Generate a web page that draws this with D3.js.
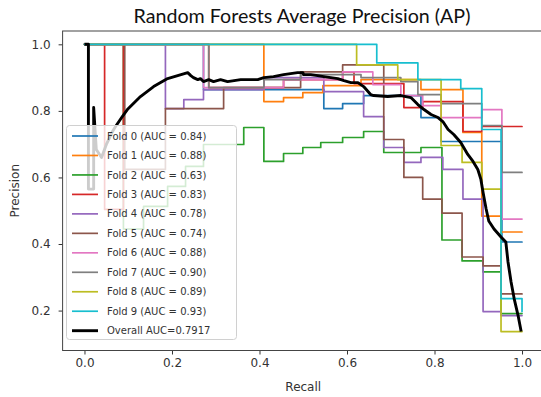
<!DOCTYPE html>
<html><head><meta charset="utf-8">
<script src="https://cdn.jsdelivr.net/npm/d3@7"></script>
<style>body{margin:0;background:#fff;} svg{display:block;}</style>
</head><body>
<svg id="chart" width="541" height="397"></svg>
<script>
// ---------------- data ----------------
const chartTitle = "Random Forests Average Precision (AP)";
const xLabel = "Recall";
const yLabel = "Precision";
const xTicks = [0, 0.2, 0.4, 0.6, 0.8, 1.0];
const yTicks = [0.2, 0.4, 0.6, 0.8, 1.0];
const foldLabels = ["Fold 0 (AUC = 0.84)","Fold 1 (AUC = 0.88)","Fold 2 (AUC = 0.63)","Fold 3 (AUC = 0.83)","Fold 4 (AUC = 0.78)","Fold 5 (AUC = 0.74)","Fold 6 (AUC = 0.88)","Fold 7 (AUC = 0.90)","Fold 8 (AUC = 0.89)","Fold 9 (AUC = 0.93)"];
const overallLabel = "Overall AUC=0.7917";
const foldColors = ["#1f77b4","#ff7f0e","#2ca02c","#d62728","#9467bd","#8c564b","#e377c2","#7f7f7f","#bcbd22","#17becf"];

const fold0Recall = [0,0.272,0.547,0.59,0.638,0.769,0.815,0.954,1.0];
const fold0Precision = [1.0,0.864,0.807,0.822,0.846,0.78,0.708,0.406,0.406];
const fold1Recall = [0,0.41,0.455,0.499,0.545,0.632,0.769,0.865,0.908,0.952,1.0];
const fold1Precision = [1.0,0.828,0.84,0.855,0.876,0.894,0.864,0.735,0.484,0.436,0.436];
const fold2Recall = [0,0.089,0.135,0.19,0.231,0.272,0.364,0.41,0.455,0.499,0.54,0.59,0.638,0.684,0.769,0.817,0.863,0.911,0.952,1.0];
const fold2Precision = [1.0,0.445,0.513,0.573,0.633,0.699,0.75,0.648,0.672,0.69,0.705,0.72,0.738,0.675,0.69,0.412,0.349,0.316,0.191,0.191];
const fold3Recall = [0,0.046,0.089,0.284,0.455,0.59,0.616,0.73,0.773,0.865,0.908,1.0];
const fold3Precision = [1.0,0.504,1.0,0.87,0.894,0.917,0.882,0.81,0.828,0.738,0.753,0.753];
const fold4Recall = [0,0.185,0.227,0.272,0.41,0.547,0.638,0.684,0.73,0.769,0.819,0.865,0.911,0.952,1.0];
const fold4Precision = [1.0,0.807,0.834,0.864,0.9,0.858,0.783,0.69,0.645,0.66,0.624,0.535,0.197,0.185,0.185];
const fold5Recall = [0,0.092,0.185,0.318,0.494,0.59,0.684,0.73,0.773,0.817,0.863,0.911,0.952,1.0];
const fold5Precision = [1.0,0.624,0.807,0.87,0.917,0.938,0.714,0.6,0.535,0.493,0.361,0.334,0.25,0.25];
const fold6Recall = [0,0.272,0.455,0.59,0.659,0.723,0.773,0.815,0.908,0.954,1.0];
const fold6Precision = [1.0,0.87,0.894,0.917,0.879,0.846,0.816,0.78,0.804,0.475,0.475];
const fold7Recall = [0,0.284,0.41,0.494,0.632,0.723,0.762,0.815,0.908,0.954,1.0];
const fold7Precision = [1.0,0.87,0.894,0.909,0.9,0.888,0.849,0.822,0.756,0.615,0.615];
const fold8Recall = [0,0.622,0.716,0.815,0.863,0.908,0.952,1.0];
const fold8Precision = [1.0,0.938,0.894,0.696,0.645,0.565,0.137,0.137];
const fold9Recall = [0,0.668,0.762,0.86,0.908,0.952,1.0];
const fold9Precision = [1.0,0.944,0.894,0.867,0.744,0.236,0.197];

const overallRecall = [0,0.009,0.009,0.021,0.021,0.027,0.039,0.050,0.064,0.071,0.085,0.098,0.128,0.158,0.190,0.213,0.236,0.243,0.249,0.259,0.265,0.272,0.284,0.295,0.311,0.327,0.357,0.396,0.410,0.432,0.455,0.487,0.499,0.501,0.517,0.533,0.547,0.563,0.579,0.593,0.609,0.625,0.638,0.648,0.654,0.661,0.693,0.723,0.746,0.762,0.776,0.792,0.808,0.819,0.831,0.844,0.860,0.876,0.888,0.899,0.906,0.911,0.918,0.924,0.936,0.952,0.963,0.968,0.975,0.982,0.991,0.998];
const overallPrecision = [1.0,1.0,0.565,0.565,0.810,0.684,0.660,0.699,0.738,0.753,0.780,0.804,0.843,0.873,0.897,0.906,0.915,0.906,0.900,0.894,0.897,0.888,0.894,0.888,0.894,0.888,0.894,0.894,0.900,0.903,0.909,0.915,0.915,0.909,0.909,0.906,0.903,0.900,0.897,0.891,0.885,0.885,0.873,0.858,0.849,0.846,0.843,0.846,0.840,0.819,0.804,0.789,0.780,0.768,0.744,0.729,0.705,0.669,0.648,0.624,0.594,0.555,0.505,0.469,0.445,0.421,0.406,0.346,0.286,0.236,0.185,0.137];

const folds = [
  [fold0Recall, fold0Precision],[fold1Recall, fold1Precision],[fold2Recall, fold2Precision],
  [fold3Recall, fold3Precision],[fold4Recall, fold4Precision],[fold5Recall, fold5Precision],
  [fold6Recall, fold6Precision],[fold7Recall, fold7Precision],[fold8Recall, fold8Precision],
  [fold9Recall, fold9Precision]
];

// ---------------- layout ----------------
const L = 62.6, R = 543.9, T = 31, B = 350.5;
const svg = d3.select("#chart");
const x = d3.scaleLinear().domain([-0.05, 1.05]).range([L, R]);
const y = d3.scaleLinear().domain([0.08, 1.04]).range([B, T]);

svg.append("defs").append("clipPath").attr("id","clip")
  .append("rect").attr("x", L).attr("y", T).attr("width", R - L).attr("height", B - T);

const plot = svg.append("g").attr("clip-path","url(#clip)");
const stepLine = d3.line().x(d => x(d[0])).y(d => y(d[1])).curve(d3.curveStepAfter);
const smoothLine = d3.line().x(d => x(d[0])).y(d => y(d[1]));

folds.forEach((f, i) => {
  plot.append("path")
    .attr("d", stepLine(d3.zip(f[0], f[1])))
    .attr("fill","none").attr("stroke", foldColors[i])
    .attr("stroke-width", 1.7).attr("stroke-linejoin","round").attr("stroke-linecap","round");
});
plot.append("path")
  .attr("d", smoothLine(d3.zip(overallRecall, overallPrecision)))
  .attr("fill","none").attr("stroke","#000")
  .attr("stroke-width", 2.9).attr("stroke-linejoin","round");

// axes
const tickFont = "DejaVu Sans, sans-serif";
const xAxis = svg.append("g").attr("transform", `translate(0,${B})`)
  .call(d3.axisBottom(x).tickValues(xTicks).tickFormat(d3.format(".1f")).tickSize(4).tickPadding(4));
const yAxis = svg.append("g").attr("transform", `translate(${L},0)`)
  .call(d3.axisLeft(y).tickValues(yTicks).tickFormat(d3.format(".1f")).tickSize(4).tickPadding(8));
[xAxis, yAxis].forEach(a => {
  a.select(".domain").remove();
  a.selectAll("line").attr("stroke","#333");
  a.selectAll("text").attr("font-family", tickFont).attr("font-size", 12).attr("fill","#333");
});

// frame
svg.append("rect").attr("x", L).attr("y", T).attr("width", R - L).attr("height", B - T)
  .attr("fill","none").attr("stroke","#444").attr("stroke-width",1);

// labels
svg.append("text").attr("x", (L + 543.9) / 2).attr("y", 391).attr("text-anchor","middle")
  .attr("font-family", tickFont).attr("font-size", 12).attr("fill","#333").text(xLabel);
svg.append("text").attr("transform", `translate(19,${(T + B) / 2}) rotate(-90)`).attr("text-anchor","middle")
  .attr("font-family", tickFont).attr("font-size", 12).attr("fill","#333").text(yLabel);

const title = svg.append("text").attr("x", 302).attr("y", 23).attr("text-anchor","middle")
  .attr("font-family","Lato, sans-serif").attr("font-size", 19).attr("fill","#111").text(chartTitle);
const tw = title.node().getComputedTextLength();
title.attr("font-size", 19 * 337 / tw);

// legend
const lg = svg.append("g");
lg.append("rect").attr("x", 66.5).attr("y", 125.5).attr("width", 170).attr("height", 214).attr("rx", 3)
  .attr("fill","#fff").attr("fill-opacity",0.8).attr("stroke","#d0d0d0").attr("stroke-width",1);
const entries = foldLabels.map((t, i) => ({t, c: foldColors[i], w: 1.7})).concat([{t: overallLabel, c: "#000", w: 2.9}]);
entries.forEach((e, i) => {
  const cy = 136 + i * 19.47;
  lg.append("line").attr("x1", 72).attr("x2", 98).attr("y1", cy).attr("y2", cy)
    .attr("stroke", e.c).attr("stroke-width", e.w);
  lg.append("text").attr("x", 107).attr("y", cy + 3.6).attr("font-family", tickFont)
    .attr("font-size", 10).attr("fill","#333").text(e.t);
});
</script>
</body></html>
